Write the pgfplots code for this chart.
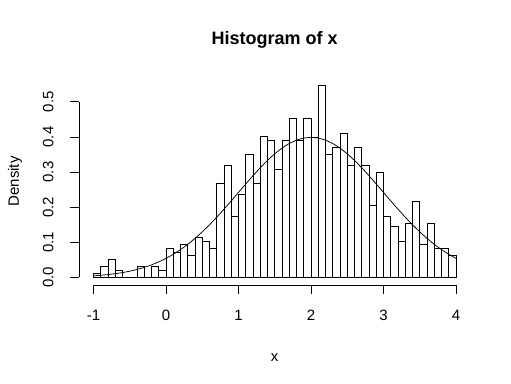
\documentclass[border=0pt]{standalone}
\usepackage{pgfplots}
\pgfplotsset{compat=1.18}
\usepackage{fontspec}
\setmainfont{Liberation Sans}
\begin{document}
\begin{tikzpicture}[font=\fontsize{15}{18}\selectfont]
\useasboundingbox (-79pt,-98pt) rectangle (432pt,285pt);
\begin{axis}[
  at={(0pt,0pt)}, anchor=south west,
  scale only axis, width=391.5pt, height=207pt,
  xmin=-1.2, xmax=4.2, ymin=-0.0218, ymax=0.568,
  axis lines=none, clip=false,
]
\addplot[ybar interval, fill=white, draw=black, line width=0.75pt] coordinates {
(-1.0,0.010) (-0.9,0.031) (-0.8,0.051) (-0.7,0.020) (-0.6,0.000)
(-0.5,0.000) (-0.4,0.031) (-0.3,0.000) (-0.2,0.031) (-0.1,0.020)
(0.0,0.083) (0.1,0.071) (0.2,0.094) (0.3,0.064) (0.4,0.115)
(0.5,0.103) (0.6,0.083) (0.7,0.269) (0.8,0.320) (0.9,0.174)
(1.0,0.237) (1.1,0.351) (1.2,0.269) (1.3,0.403) (1.4,0.391)
(1.5,0.309) (1.6,0.391) (1.7,0.454) (1.8,0.391) (1.9,0.454)
(2.0,0.400) (2.1,0.546) (2.2,0.351) (2.3,0.371) (2.4,0.411)
(2.5,0.320) (2.6,0.371) (2.7,0.320) (2.8,0.206) (2.9,0.300)
(3.0,0.174) (3.1,0.146) (3.2,0.103) (3.3,0.154) (3.4,0.217)
(3.5,0.094) (3.6,0.154) (3.7,0.083) (3.8,0.083) (3.9,0.063)
(4.0,0.000)
};
\addplot[black, line width=0.75pt] coordinates {
(-1.0,0.00443) (-0.9,0.00595) (-0.8,0.00792) (-0.7,0.01042) (-0.6,0.01358)
(-0.5,0.01753) (-0.4,0.02239) (-0.3,0.02833) (-0.2,0.03547) (-0.1,0.04398)
(0.0,0.05399) (0.1,0.06562) (0.2,0.07895) (0.3,0.09405) (0.4,0.11092)
(0.5,0.12952) (0.6,0.14973) (0.7,0.17137) (0.8,0.19419) (0.9,0.21785)
(1.0,0.24197) (1.1,0.26609) (1.2,0.28969) (1.3,0.31225) (1.4,0.33322)
(1.5,0.35207) (1.6,0.36827) (1.7,0.38139) (1.8,0.39104) (1.9,0.39695)
(2.0,0.39894) (2.1,0.39695) (2.2,0.39104) (2.3,0.38139) (2.4,0.36827)
(2.5,0.35207) (2.6,0.33322) (2.7,0.31225) (2.8,0.28969) (2.9,0.26609)
(3.0,0.24197) (3.1,0.21785) (3.2,0.19419) (3.3,0.17137) (3.4,0.14973)
(3.5,0.12952) (3.6,0.11092) (3.7,0.09405) (3.8,0.07895) (3.9,0.06562)
(4.0,0.05399)
};
% axes in R style
\draw[line width=0.75pt] (axis cs:-1,-0.0218) -- (axis cs:4,-0.0218);
\pgfplotsinvokeforeach{-1,0,1,2,3,4}{
  \draw[line width=0.75pt] (axis cs:#1,-0.0218) -- ([yshift=-9pt]axis cs:#1,-0.0218);
  \node[anchor=base, inner sep=0pt] at ([yshift=-35pt]axis cs:#1,-0.0218) {#1};
}
\draw[line width=0.75pt] (axis cs:-1.2,0) -- (axis cs:-1.2,0.5);
\pgfplotsinvokeforeach{0.0,0.1,0.2,0.3,0.4,0.5}{
  \draw[line width=0.75pt] (axis cs:-1.2,#1) -- ([xshift=-8.5pt]axis cs:-1.2,#1);
  \node[rotate=90, anchor=base, inner sep=0pt] at ([xshift=-25.5pt]axis cs:-1.2,#1) {#1};
}
\node[anchor=base, inner sep=0pt, font=\fontsize{18}{21}\selectfont\bfseries] at ([yshift=33pt]rel axis cs:0.5,1) {Histogram of x};
\node[anchor=base, inner sep=0pt] at ([yshift=-76pt]rel axis cs:0.5,0) {x};
\node[rotate=90, anchor=base, inner sep=0pt] at ([xshift=-60pt]rel axis cs:0,0.5) {Density};
\end{axis}
\end{tikzpicture}
\end{document}
